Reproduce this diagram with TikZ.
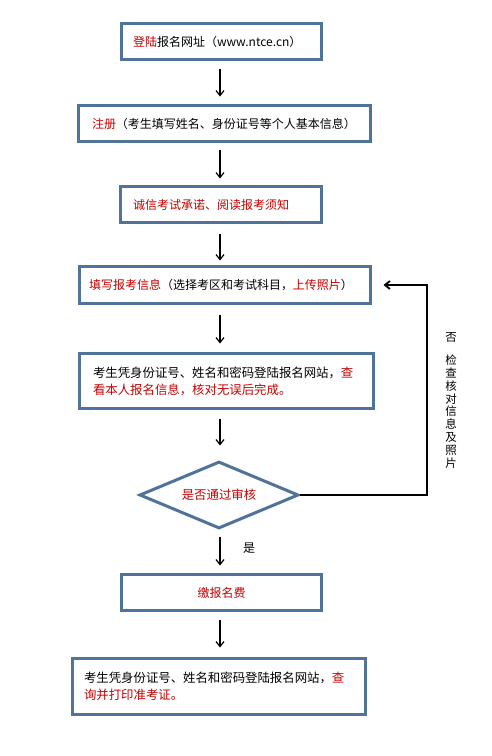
\documentclass[tikz,border=0pt]{standalone}
\usepackage{fontspec}
\setmainfont{Noto Sans CJK SC}
\usetikzlibrary{arrows.meta,shapes.geometric}
\definecolor{bordercol}{RGB}{79,115,153}
\definecolor{redtxt}{RGB}{196,0,0}
\newcommand{\rt}[1]{\textcolor{redtxt}{#1}}
\begin{document}
\begin{tikzpicture}[x=1pt,y=-1pt,
  box/.style={draw=bordercol, line width=3pt, inner ysep=0pt, minimum height=#1,
    font=\fontsize{12}{17}\selectfont},
  dia/.style={draw=bordercol, line width=3pt, shape=diamond, aspect=2.4, inner sep=0pt,
    minimum width=159pt, minimum height=67pt, font=\fontsize{12.4}{17}\selectfont},
  arr/.style={-{Straight Barb[length=5pt,width=8pt]}, line width=1.2pt, black},
  fb/.style={-{Straight Barb[length=5pt,width=8pt]}, line width=1.8pt, black},
  lbl/.style={font=\fontsize{12}{17}\selectfont, inner sep=0pt}]
\useasboundingbox (0,0) rectangle (492,756);
\fill[white] (0,0) rectangle (492,756);

\node[box=36pt, minimum width=200pt, inner xsep=11.5pt] (b1) at (221.5,41.5)
  {\makebox[177pt][l]{\rt{登陆}报名网址（www.ntce.cn）}};
\node[box=36pt, minimum width=292pt, inner xsep=13.5pt] (b2) at (224.5,123.5)
  {\makebox[265pt][l]{\rt{注册}（考生填写姓名、身份证号等个人基本信息）}};
\node[box=36pt, minimum width=201pt, inner xsep=12.5pt] (b3) at (221,204.5)
  {\makebox[176pt][l]{\rt{诚信考试承诺、阅读报考须知}}};
\node[box=37pt, minimum width=291pt, inner xsep=9.5pt] (b4) at (225,285)
  {\makebox[272pt][l]{\rt{填写报考信息}（选择考区和考试科目，\rt{上传照片}）}};
\node[box=55pt, minimum width=294pt, inner xsep=13.5pt, font=\fontsize{12.4}{17}\selectfont] (b5) at (226.5,381)
  {\parbox{267pt}{\raggedright 考生凭身份证号、姓名和密码登陆报名网站，\rt{查}\\\rt{看本人报名信息，核对无误后完成。}}};
\node[dia] (d) at (219,495) {\rt{是否通过审核}};
\node[box=36pt, minimum width=200pt] (b6) at (221.5,592.5) {\rt{缴报名费}};
\node[box=56pt, minimum width=293pt, inner xsep=11.5pt, font=\fontsize{12.4}{17}\selectfont] (b7) at (219,686.5)
  {\parbox{270pt}{\raggedright 考生凭身份证号、姓名和密码登陆报名网站，\rt{查}\\\rt{询并打印准考证。}}};

\coordinate (ax) at (220,0);
\coordinate (fr) at (427,0);

\draw[arr, shorten <=7.5pt, shorten >=7.5pt] (b1.south -| ax) -- (b2.north -| ax);
\draw[arr, shorten <=6.5pt, shorten >=6.5pt] (b2.south -| ax) -- (b3.north -| ax);
\draw[arr, shorten <=9.5pt, shorten >=4.5pt] (b3.south -| ax) -- (b4.north -| ax);
\draw[arr, shorten <=9.5pt, shorten >=8.5pt] (b4.south -| ax) -- (b5.north -| ax);
\draw[arr, shorten <=8.5pt, shorten >=14.5pt] (b5.south -| ax) -- (d.north -| ax);
\draw[arr, shorten <=6.5pt, shorten >=7.5pt] (d.south -| ax) -- (b6.north -| ax);
\draw[arr, shorten <=7.5pt, shorten >=9.5pt] (b6.south -| ax) -- (b7.north -| ax);

\draw[fb, shorten >=11.5pt] (d.east) -- (d.east -| fr) -- (b4.east -| fr) -- (b4.east);

\node[lbl] (yes) at (249,548) {是};
\node[lbl, font=\fontsize{11.5}{13}\selectfont] (no) at (451,337) {否};
\node[lbl, align=center, font=\fontsize{11.5}{12.9}\selectfont] (chk) at (451,411.5)
  {检\\查\\核\\对\\信\\息\\及\\照\\片};
\end{tikzpicture}
\end{document}
